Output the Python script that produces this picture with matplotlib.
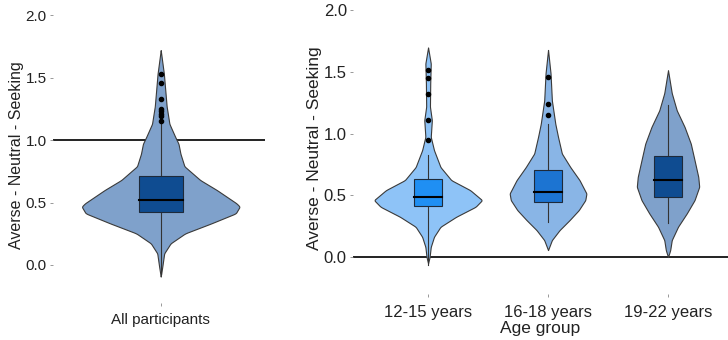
import matplotlib
matplotlib.use("Agg")
import matplotlib.pyplot as plt
import numpy as np

plt.rcParams['font.family'] = ['Liberation Sans', 'DejaVu Sans']

# violin outlines: value levels and relative density (0..1)
all_y = [1.72, 1.53, 1.27, 1.13, 1.03, 0.97, 0.89, 0.79, 0.68, 0.60, 0.493, 0.467, 0.413, 0.333, 0.253, 0.173, 0.093, -0.013, -0.093]
all_d = [0.0, 0.04, 0.075, 0.11, 0.18, 0.225, 0.25, 0.30, 0.50, 0.71, 0.96, 1.0, 0.95, 0.64, 0.31, 0.125, 0.044, 0.02, 0.0]

g1_y = [1.70, 1.57, 1.41, 1.22, 1.11, 0.975, 0.867, 0.73, 0.624, 0.543, 0.462, 0.408, 0.327, 0.246, 0.165, 0.083, 0.0, -0.05]
g1_d = [0.0, 0.05, 0.04, 0.035, 0.07, 0.05, 0.11, 0.23, 0.43, 0.78, 1.0, 0.88, 0.52, 0.23, 0.11, 0.05, 0.028, 0.0]

g2_y = [1.68, 1.49, 1.27, 1.08, 0.975, 0.84, 0.73, 0.624, 0.516, 0.462, 0.381, 0.30, 0.219, 0.138, 0.057]
g2_d = [0.0, 0.065, 0.10, 0.19, 0.26, 0.36, 0.58, 0.82, 1.0, 0.97, 0.80, 0.56, 0.30, 0.10, 0.0]

g3_y = [1.515, 1.33, 1.19, 1.056, 0.92, 0.786, 0.65, 0.57, 0.462, 0.354, 0.246, 0.138, 0.057, 0.0]
g3_d = [0.0, 0.12, 0.28, 0.53, 0.73, 0.85, 0.97, 1.0, 0.85, 0.60, 0.32, 0.12, 0.07, 0.0]

# box stats: lower whisker, q1, median, q3, upper whisker
all_box = [-0.07, 0.424, 0.52, 0.712, 1.13]
g1_box = [-0.06, 0.416, 0.489, 0.63, 0.83]
g2_box = [0.286, 0.443, 0.529, 0.705, 1.08]
g3_box = [0.278, 0.489, 0.624, 0.82, 1.23]

all_out = [1.53, 1.46, 1.33, 1.25, 1.23, 1.21, 1.19, 1.15]
g1_out = [1.52, 1.45, 1.32, 1.11, 0.95]
g2_out = [1.46, 1.245, 1.15]
g3_out = []

groups = ['12-15 years', '16-18 years', '19-22 years']

fill_col = ['#8ec3f7', '#89b5e6', '#7fa1cb']
box_col = ['#1f8ff3', '#1c74d2', '#0f4c91']


def violin(ax, x, ys, ds, box, outs, maxw, boxw, fc, bc):
    yy = np.linspace(min(ys), max(ys), 500)
    order = np.argsort(ys)
    dd = np.interp(yy, np.array(ys)[order], np.array(ds)[order])
    k = np.ones(5) / 5
    dd = np.convolve(np.pad(dd, 2, mode='edge'), k, mode='valid')
    dd[0] = dd[-1] = 0
    w = dd * maxw
    ax.fill_betweenx(yy, x - w, x + w, facecolor=fc, edgecolor='#3a3a3a', lw=0.8, zorder=2)
    lo, q1, med, q3, hi = box
    ax.plot([x, x], [lo, q1], color='#333333', lw=0.8, zorder=3)
    ax.plot([x, x], [q3, hi], color='#333333', lw=0.8, zorder=3)
    ax.add_patch(plt.Rectangle((x - boxw, q1), 2 * boxw, q3 - q1, facecolor=bc,
                               edgecolor='#1e2a3a', lw=0.8, zorder=4))
    ax.plot([x - boxw, x + boxw], [med, med], color='black', lw=1.5, zorder=5)
    if outs:
        ax.plot([x] * len(outs), outs, 'o', color='black', ms=3, zorder=6)


def style(ax, fs):
    for s in ax.spines.values():
        s.set_visible(False)
    ax.set_yticks([0.0, 0.5, 1.0, 1.5, 2.0])
    ax.set_yticklabels(['0.0', '0.5', '1.0', '1.5', '2.0'])
    ax.tick_params(axis='both', length=2.5, width=0.6, color='#888888',
                   labelsize=fs, labelcolor='#222222')
    ax.tick_params(axis='y', pad=2)
    ax.tick_params(axis='x', pad=5)


fig = plt.figure(figsize=(7.28, 3.4), dpi=100)

ax1 = fig.add_axes([0.0728, 0.109, 0.291, 0.867])
violin(ax1, 1, all_y, all_d, all_box, all_out, 0.44, 0.122, '#7fa1cb', '#0f4c91')
ax1.axhline(1.0, color='#222222', lw=1.4, zorder=1)
ax1.set_xlim(0.4, 1.58)
ax1.set_ylim(-0.304, 2.056)
ax1.set_xticks([1])
ax1.set_xticklabels(['All participants'], fontsize=10)
style(ax1, 11)
ax1.set_ylabel('Averse - Neutral - Seeking', fontsize=11.5, color='#222222', labelpad=1)

ax2 = fig.add_axes([0.485, 0.135, 0.515, 0.856])
widths = [0.45, 0.32, 0.26]
data = [(g1_y, g1_d, g1_box, g1_out), (g2_y, g2_d, g2_box, g2_out), (g3_y, g3_d, g3_box, g3_out)]
for i, (ys, ds, bx, outs) in enumerate(data):
    violin(ax2, i + 1, ys, ds, bx, outs, widths[i], 0.12, fill_col[i], box_col[i])
ax2.axhline(0.0, color='#222222', lw=1.4, zorder=1)
ax2.set_xlim(0.375, 3.5)
ax2.set_ylim(-0.30, 2.06)
ax2.set_xticks([1, 2, 3])
ax2.set_xticklabels(groups, fontsize=12)
style(ax2, 12)
ax2.set_ylabel('Averse - Neutral - Seeking', fontsize=12.5, color='#222222', labelpad=1)
ax2.set_xlabel('Age group', fontsize=12.5, color='#222222', labelpad=1)

fig.savefig('out.png', dpi=100)
